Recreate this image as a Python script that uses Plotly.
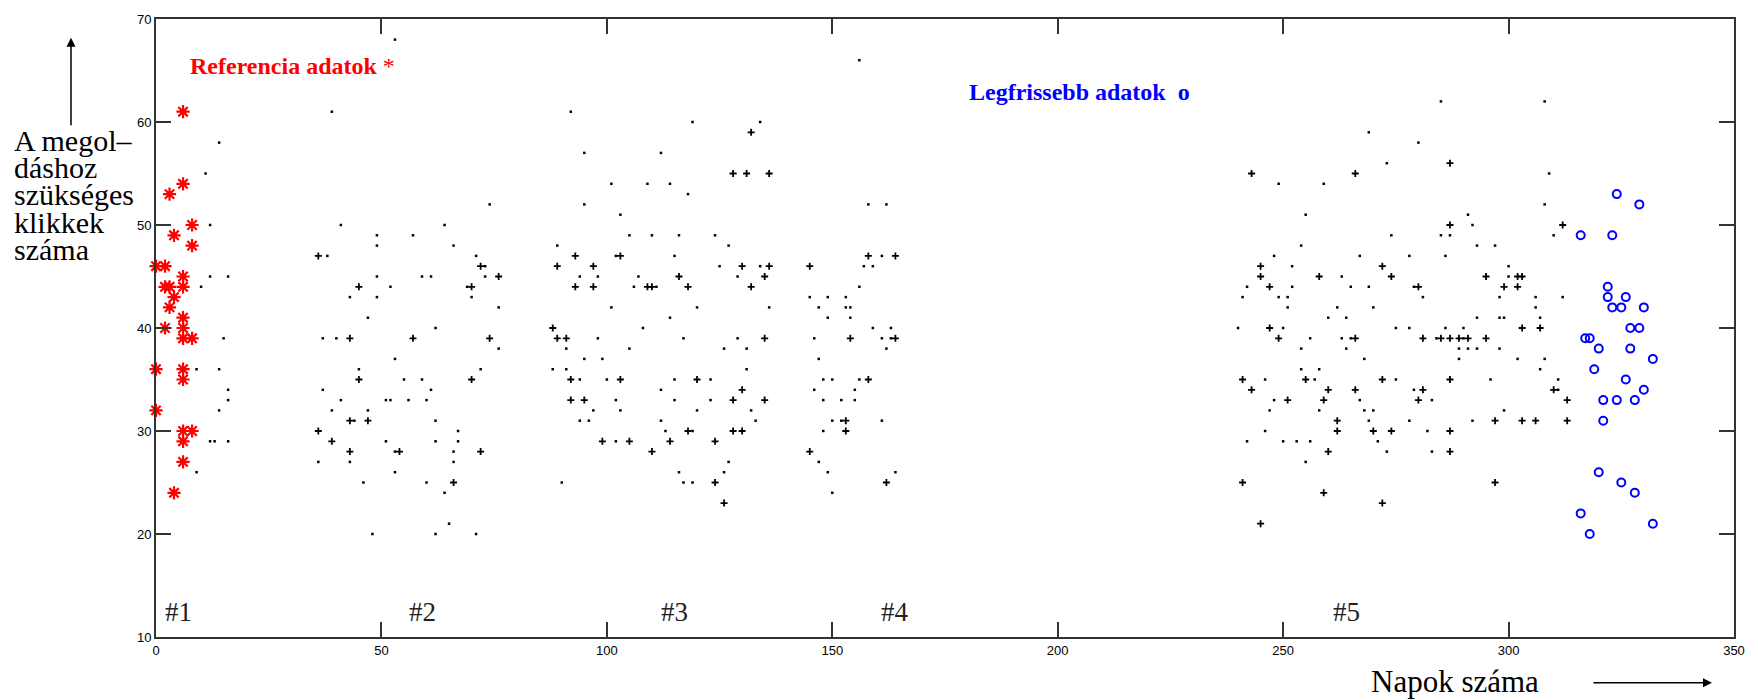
import plotly.graph_objects as go

# ---------------- data (day, number of clicks) ----------------
reference_points = [(6,61),(6,54),(3,53),(8,50),(4,49),(8,48),(0,46),(2,46),(6,45),(2,44),(3,44),(6,44),
                    (4,43),(3,42),(6,41),(2,40),(6,40),(6,39),(8,39),(0,36),(6,36),(6,35),(0,32),(6,30),
                    (8,30),(6,29),(6,27),(4,24)]

latest_points = [(324,53),(329,52),(316,49),(323,49),(322,44),(322,43),(326,43),(323,42),(325,42),(330,42),
                 (327,40),(329,40),(317,39),(318,39),(320,38),(327,38),(332,37),(319,36),(326,35),(330,34),
                 (321,33),(324,33),(328,33),(321,31),(320,26),(325,25),(328,24),(316,22),(332,21),(318,20)]

# single results per day (small dots)
period1 = [(14,58),(11,55),(12,50),(12,45),(16,45),(10,44),(15,39),(9,36),(14,36),(16,34),(16,33),(14,32),
           (12,29),(13,29),(16,29),(9,26)]
period2 = [(39,61),(53,68),(74,52),(41,50),(64,50),(49,49),(57,49),(49,48),(66,48),(38,47),(71,47),(73,46),
           (49,45),(59,45),(61,45),(73,45),(52,44),(69,44),(43,43),(49,43),(70,43),(76,42),(47,41),(62,40),
           (37,39),(40,39),(76,38),(53,37),(45,36),(72,36),(55,35),(59,35),(37,34),(61,34),(41,33),(51,33),
           (52,33),(56,33),(60,33),(39,32),(47,32),(44,31),(62,31),(67,30),(51,29),(62,29),(67,29),(53,28),
           (66,28),(36,27),(43,27),(66,27),(53,26),(46,25),(60,25),(64,24),(65,21),(48,20),(62,20),(71,20)]
period3 = [(92,61),(119,60),(134,60),(95,57),(112,57),(101,54),(109,54),(114,54),(118,53),(95,52),(103,51),
           (105,49),(110,49),(116,49),(124,49),(89,48),(127,48),(102,47),(115,47),(125,46),(134,46),(94,45),
           (98,45),(107,45),(129,45),(106,44),(111,44),(101,42),(120,42),(136,42),(114,41),(108,40),(98,39),
           (117,39),(129,39),(91,38),(105,38),(126,38),(131,38),(95,37),(99,37),(88,36),(91,36),(131,36),
           (94,35),(100,35),(115,35),(123,35),(112,34),(102,33),(115,33),(123,33),(97,32),(103,32),(120,32),
           (132,32),(94,31),(96,31),(112,31),(133,31),(113,30),(119,30),(102,29),(127,27),(116,26),(126,26),
           (90,25),(117,25),(119,25)]
period4 = [(156,66),(158,52),(162,52),(161,47),(157,46),(159,46),(156,44),(145,43),(149,43),(153,43),(147,42),
           (153,42),(154,42),(149,41),(154,41),(159,40),(163,40),(146,39),(161,39),(163,39),(162,38),(147,37),
           (148,35),(150,35),(156,35),(146,34),(155,34),(148,33),(152,33),(155,33),(150,31),(152,31),(161,31),
           (148,30),(147,27),(149,26),(164,26),(150,24)]
period5 = [(269,59),(273,56),(249,54),(259,54),(255,51),(274,49),(254,48),(248,47),(267,47),(252,46),(263,45),
           (242,44),(252,44),(265,44),(269,44),(241,43),(249,43),(251,43),(251,42),(262,42),(270,42),(260,41),
           (264,41),(240,40),(250,40),(275,40),(256,39),(263,39),(265,39),(254,38),(264,38),(268,37),(254,36),
           (258,36),(246,35),(257,35),(275,35),(248,33),(267,33),(247,32),(258,32),(268,32),(270,32),(269,31),
           (246,30),(242,29),(250,29),(253,29),(256,29),(271,29),(273,28),(255,27),
           (285,62),(308,62),(280,58),(309,55),(308,52),(291,51),(292,50),(285,49),(287,49),(310,49),(293,48),
           (297,48),(278,47),(286,47),(300,46),(300,45),(279,44),(281,43),(298,43),(306,43),(312,43),(306,42),
           (293,41),(298,41),(299,41),(307,41),(278,40),(286,40),(290,40),(284,39),(290,39),(289,38),(291,38),
           (293,38),(298,38),(289,37),(302,37),(308,37),(307,36),(296,35),(311,35),(279,34),(311,34),(283,33),
           (299,32),(278,31),(292,31),(282,30),(283,28)]

# days with repeated results (drawn as crosses)
repeated = [(36,47),(72,46),(76,45),(45,44),(70,44),(43,39),(57,39),(74,39),(45,35),(70,35),(43,31),(47,31),
            (36,30),(39,29),(43,28),(54,28),(72,28),(66,25),
            (132,59),(128,55),(131,55),(136,55),(93,47),(103,47),(89,46),(97,46),(130,46),(136,46),(116,45),
            (135,45),(93,44),(97,44),(109,44),(110,44),(118,44),(132,44),(88,40),(89,39),(91,39),(135,39),
            (92,35),(103,35),(120,35),(130,34),(92,33),(95,33),(128,33),(135,33),(118,30),(128,30),(130,30),
            (99,29),(105,29),(114,29),(124,29),(110,28),(124,25),(126,23),
            (158,47),(164,47),(145,46),(154,39),(164,39),(158,35),(153,31),(153,30),(145,28),(162,25),
            (243,55),(266,55),(245,46),(272,46),(245,45),(258,45),(274,45),(247,44),(247,40),(249,39),(266,39),
            (241,35),(255,35),(272,35),(243,34),(260,34),(266,34),(251,33),(259,33),(262,31),(262,30),(270,30),
            (274,30),(260,28),(241,25),(259,24),(272,23),(245,21),
            (287,56),(287,50),(312,50),(295,45),(302,45),(303,45),(280,44),(299,44),(302,44),(303,40),(307,40),
            (281,39),(285,39),(287,39),(289,39),(291,39),(295,39),(287,35),(281,34),(310,34),(280,33),(313,33),
            (297,31),(303,31),(306,31),(313,31),(287,30),(287,28),(297,25)]

x_ticks = [0, 50, 100, 150, 200, 250, 300, 350]
y_ticks = [10, 20, 30, 40, 50, 60, 70]

period_labels = ["#1", "#2", "#3", "#4", "#5"]
period_label_days = [5, 59, 115, 164, 264]

ylabel_lines = ["A megol–", "dáshoz", "szükséges", "klikkek", "száma"]

# ---------------- figure ----------------
singles = period1 + period2 + period3 + period4 + period5

fig = go.Figure()
fig.add_trace(go.Scatter(
    x=[p[0] for p in singles], y=[p[1] for p in singles], mode="markers",
    marker=dict(symbol="square", size=2.5, color="black", line=dict(width=0)),
    cliponaxis=False, showlegend=False, hoverinfo="x+y"))
fig.add_trace(go.Scatter(
    x=[p[0] for p in repeated], y=[p[1] for p in repeated], mode="markers",
    marker=dict(symbol="cross-thin", size=5, color="black", line=dict(width=1.8, color="black")),
    cliponaxis=False, showlegend=False, hoverinfo="x+y"))
fig.add_trace(go.Scatter(
    x=[p[0] for p in reference_points], y=[p[1] for p in reference_points], mode="markers",
    marker=dict(symbol="asterisk-open", size=11, color="#ff0000", line=dict(width=2.2, color="#ff0000")),
    cliponaxis=False, showlegend=False, hoverinfo="x+y"))
fig.add_trace(go.Scatter(
    x=[p[0] for p in latest_points], y=[p[1] for p in latest_points], mode="markers",
    marker=dict(symbol="circle-open", size=8, color="#0000ff", line=dict(width=2, color="#0000ff")),
    cliponaxis=False, showlegend=False, hoverinfo="x+y"))

axis_common = dict(showgrid=False, zeroline=False, ticks="inside", ticklen=15, tickwidth=2,
                   tickcolor="#333333", showline=True, linecolor="#333333", linewidth=2,
                   mirror="ticks", tickfont=dict(family="Liberation Sans, Arial", size=13, color="black"))

fig.update_xaxes(range=[0, 350], tickvals=x_ticks, ticktext=[str(v) for v in x_ticks], **axis_common)
fig.update_yaxes(range=[10, 70], tickvals=y_ticks, ticktext=[str(v) for v in y_ticks], **axis_common)

annotations = []
# in-plot legend texts
annotations.append(dict(x=7.1, y=65.4, xref="x", yref="y", text="<b>Referencia adatok</b> *",
                        showarrow=False, xanchor="left", yanchor="middle",
                        font=dict(family="Liberation Serif", size=24, color="#ff0000")))
annotations.append(dict(x=179.9, y=62.9, xref="x", yref="y", text="<b>Legfrissebb adatok\u00a0\u00a0o</b>",
                        showarrow=False, xanchor="left", yanchor="middle",
                        font=dict(family="Liberation Serif", size=24, color="#0000ff")))
# period labels
for lab, d in zip(period_labels, period_label_days):
    annotations.append(dict(x=d, y=12.4, xref="x", yref="y", text=lab, showarrow=False,
                            xanchor="center", yanchor="middle",
                            font=dict(family="Liberation Serif", size=27, color="#222222")))

# page pixel -> paper helpers (plot area on the page: x 156..1734, y 14..637)
L, R, T, B = 156, 1734, 14, 637
def px(xp):
    return (xp - L) / (R - L)
def py(yp):
    return (B - yp) / (B - T)

# y axis title lines
for i, line in enumerate(ylabel_lines):
    annotations.append(dict(x=px(12), y=py(136 + 27.6 * i), xref="paper", yref="paper", text=line,
                            showarrow=False, xanchor="left", yanchor="middle",
                            font=dict(family="Liberation Serif", size=30, color="black")))
# x axis title
annotations.append(dict(x=px(1369), y=py(682), xref="paper", yref="paper", text="Napok száma",
                        showarrow=False, xanchor="left", yanchor="middle",
                        font=dict(family="Liberation Serif", size=31, color="black")))
# arrows
annotations.append(dict(x=px(71), y=py(33), xref="paper", yref="paper", text="", showarrow=True,
                        ax=0, ay=89, arrowhead=2, arrowsize=1.2, arrowwidth=1.5, arrowcolor="black"))
annotations.append(dict(x=px(1712), y=py(683), xref="paper", yref="paper", text="", showarrow=True,
                        ax=-120, ay=0, arrowhead=2, arrowsize=1.2, arrowwidth=1.5, arrowcolor="black"))

fig.update_layout(width=1758, height=700, autosize=False,
                  margin=dict(l=156, r=24, t=14, b=63, pad=0),
                  paper_bgcolor="white", plot_bgcolor="white",
                  annotations=annotations, showlegend=False)

# remove the default page margin so the 1758x700 figure fills the window exactly
fig.write_html("out.html", config={"displayModeBar": False},
               post_script="document.body.style.margin='0';document.body.style.overflow='hidden';")
